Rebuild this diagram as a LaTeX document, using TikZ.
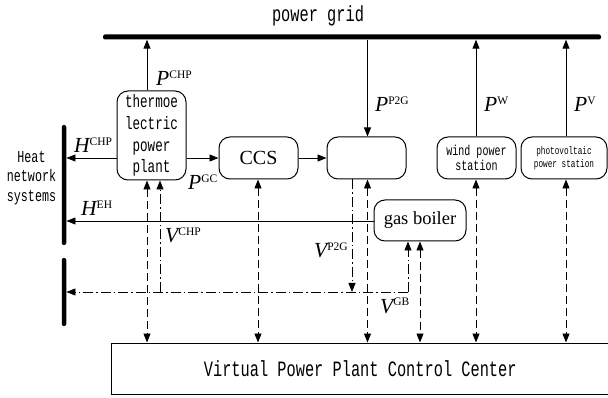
\documentclass[tikz,border=0pt]{standalone}
\usepackage{fontspec}
\setmainfont{Liberation Serif}
\setmonofont{Liberation Mono}
\newfontfamily\cmono[FakeStretch=0.7]{Liberation Mono}
\usetikzlibrary{arrows.meta}
\newcommand{\lbl}[2]{{\fontsize{21.5}{21.5}\selectfont\itshape #1}\raisebox{7.5pt}{\fontsize{11.5}{11.5}\selectfont #2}}
\begin{document}
\begin{tikzpicture}[x=1pt,y=-1pt,
  box/.style={draw, line width=1pt, rounded corners=11pt, inner sep=0pt, align=center},
  bar/.style={fill, inner sep=0pt, rounded corners=2pt},
  tip/.style={-{Triangle[length=9pt,width=7pt]}},
  dtip/.style={{Triangle[length=9pt,width=7pt]}-{Triangle[length=9pt,width=7pt]}},
  conn/.style={line width=0.9pt},
  dsh/.style={line width=0.9pt, dash pattern=on 8pt off 4pt},
  dshdot/.style={line width=0.9pt, dash pattern=on 10pt off 3pt on 1.5pt off 3pt},
  lab/.style={anchor=base west, inner sep=0pt}]
\useasboundingbox (0,0) rectangle (608,398);
% grid and heat bars
\node[bar, minimum width=498pt, minimum height=5pt] (grid) at (352,37) {};
\node[anchor=base, inner sep=0pt, font=\fontsize{21.9}{21.9}\cmono] (gridtxt) at (318,22) {power grid};
\node[bar, minimum width=4.5pt, minimum height=120pt] (hb1) at (64,185) {};
\node[bar, minimum width=4.5pt, minimum height=68pt] (hb2) at (64,292) {};
\node[inner sep=0pt, align=center, font=\fontsize{16.7}{19.5}\cmono] (heat) at (31.5,178) {Heat\\network\\systems};
% boxes
\node[box, minimum width=69pt, minimum height=89pt, font=\fontsize{18}{21.7}\cmono] (chp) at (151.5,135.5) {thermoe\\lectric\\power\\plant};
\node[box, minimum width=79pt, minimum height=42pt, font=\fontsize{20}{20}\selectfont] (ccs) at (258.5,158) {CCS};
\node[box, minimum width=79pt, minimum height=42pt] (p2g) at (366.5,158) {};
\node[box, minimum width=79pt, minimum height=42pt, font=\fontsize{14.3}{15.5}\cmono] (wind) at (476.5,158) {wind power\\station};
\node[box, minimum width=86pt, minimum height=42pt, font=\fontsize{11}{12.5}\cmono] (pv) at (564,158) {photovoltaic\\power station};
\node[box, minimum width=92pt, minimum height=41pt, font=\fontsize{18.5}{18.5}\selectfont] (gb) at (420,220.5) {gas boiler};
\node[draw, line width=1pt, minimum width=498.5pt, minimum height=51pt, inner sep=0pt, font=\fontsize{21.9}{21.9}\cmono] (vpp) at (360.25,368.5) {Virtual Power Plant Control Center};
% reference coordinates
\coordinate (xa) at (147,0);
\coordinate (xb) at (160,0);
\coordinate (xc) at (258,0);
\coordinate (xd) at (352,0);
\coordinate (xe) at (367.5,0);
\coordinate (xf) at (408,0);
\coordinate (xg) at (420,0);
\coordinate (xh) at (476,0);
\coordinate (xi) at (566,0);
\coordinate (r1) at (0,158);
\coordinate (rh) at (0,221);
\coordinate (rv) at (0,292);
\coordinate (vj1) at (160,292);
\coordinate (vj2) at (352,292);
\coordinate (vj3) at (408,292);
% power flows
\draw[conn,tip] (chp.north -| xa) -- (grid.south -| xa);
\draw[conn,tip] (grid.south -| xe) -- (p2g.north -| xe);
\draw[conn,tip] (wind.north -| xh) -- (grid.south -| xh);
\draw[conn,tip] (pv.north -| xi) -- (grid.south -| xi);
\draw[conn,tip] (chp.east |- r1) -- (ccs.west |- r1);
\draw[conn,tip] (ccs.east |- r1) -- (p2g.west |- r1);
\draw[conn,tip] (chp.west |- r1) -- (hb1.east |- r1);
\draw[conn,tip] (gb.west |- rh) -- (hb1.east |- rh);
% control links
\draw[dsh,dtip] (chp.south -| xa) -- (vpp.north -| xa);
\draw[dsh,dtip] (ccs.south -| xc) -- (vpp.north -| xc);
\draw[dsh,dtip] (p2g.south -| xe) -- (vpp.north -| xe);
\draw[dsh,dtip] (gb.south -| xg) -- (vpp.north -| xg);
\draw[dsh,dtip] (wind.south -| xh) -- (vpp.north -| xh);
\draw[dsh,dtip] (pv.south -| xi) -- (vpp.north -| xi);
% gas flows
\draw[dshdot,tip] (vj3) -- (hb2.east |- rv);
\draw[dshdot,tip] (vj1) -- (chp.south -| xb);
\draw[dshdot,tip] (p2g.south -| xd) -- (vj2);
\draw[dshdot,tip] (vj3) -- (gb.south -| xf);
% labels
\node[lab] (lpchp) at (156,86) {\lbl{P}{CHP}};
\node[lab] (lhchp) at (74,153) {\lbl{H}{CHP}};
\node[lab] (lpgc) at (188,190) {\lbl{P}{GC}};
\node[lab] (lpp2g) at (375,112) {\lbl{P}{P2G}};
\node[lab] (lpw) at (484,112) {\lbl{P}{W}};
\node[lab] (lpv) at (574,112) {\lbl{P}{V}};
\node[lab] (lheh) at (81,216) {\lbl{H}{EH}};
\node[lab] (lvchp) at (165,243) {\lbl{V}{CHP}};
\node[lab] (lvp2g) at (314,258) {\lbl{V}{P2G}};
\node[lab] (lvgb) at (380,313) {\lbl{V}{GB}};
\end{tikzpicture}
\end{document}
